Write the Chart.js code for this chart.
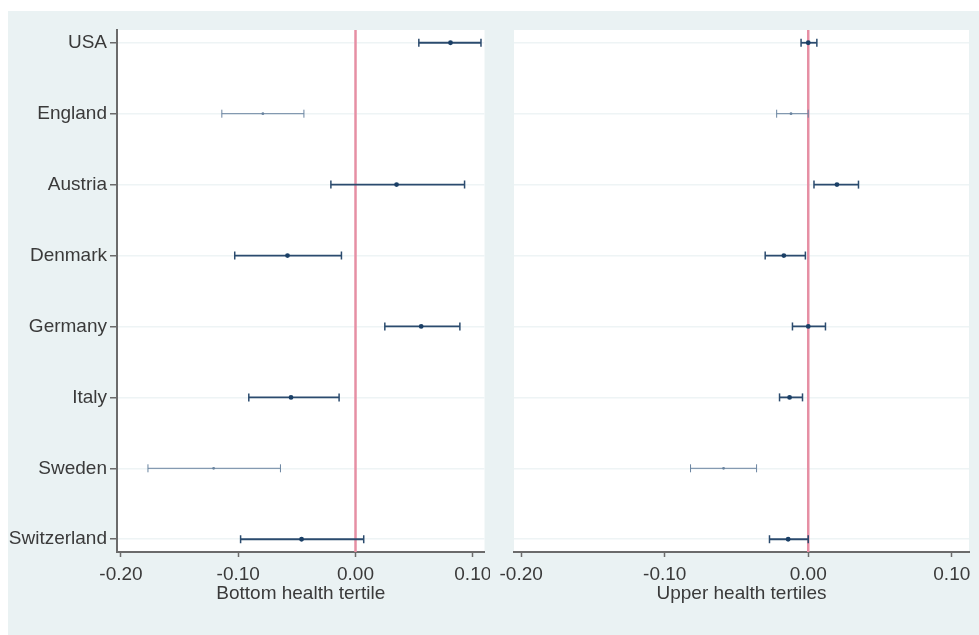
<!DOCTYPE html>
<html>
<head>
<meta charset="utf-8">
<script src="https://cdn.jsdelivr.net/npm/chart.js@4.4.1/dist/chart.umd.min.js"></script>
<style>
  html, body { margin: 0; padding: 0; background: #fff; }
  #frame { position: absolute; left: 8px; top: 11px; width: 971px; height: 624px; background: #eaf2f3; }
  .panel { position: absolute; top: 0; height: 635px; }
  #left { left: 0; width: 490px; }
  #right { left: 490px; width: 489px; }
</style>
</head>
<body>
<div id="frame"></div>
<div class="panel" id="left"><canvas id="bottomChart"></canvas></div>
<div class="panel" id="right"><canvas id="upperChart"></canvas></div>
<script>
// countries top to bottom
const countries = ['USA', 'England', 'Austria', 'Denmark', 'Germany', 'Italy', 'Sweden', 'Switzerland'];
const xTicks = [-0.2, -0.1, 0, 0.1];

// bottom health tertile: estimate + 95% CI
const bottomEst = [0.081, -0.079, 0.035, -0.058, 0.056, -0.055, -0.121, -0.046];
const bottomLow = [0.054, -0.114, -0.021, -0.103, 0.025, -0.091, -0.177, -0.098];
const bottomHigh = [0.107, -0.044, 0.093, -0.012, 0.089, -0.014, -0.064, 0.007];

// upper health tertiles
const upperEst = [0.000, -0.012, 0.020, -0.017, 0.000, -0.013, -0.059, -0.014];
const upperLow = [-0.005, -0.022, 0.004, -0.030, -0.011, -0.020, -0.082, -0.027];
const upperHigh = [0.006, 0.000, 0.035, -0.002, 0.012, -0.004, -0.036, 0.000];

// rows drawn with the light/thin style
const thinRows = ['England', 'Sweden'];

const COLORS = {
  grid: '#eef4f5',
  axis: '#6b6b6b',
  text: '#3a3a3a',
  navy: '#2b4b6e',
  navyDot: '#1a3f66',
  navyLight: '#6a84a0',
  zero: '#e68fa4',
};
const FONT = "'Liberation Sans', Arial, sans-serif";
const Y_MIN = -0.18;
const Y_MAX = countries.length - 1 + 0.18;

const plotBackground = {
  id: 'plotBackground',
  beforeDraw(chart) {
    const { ctx, chartArea: a } = chart;
    ctx.save();
    ctx.fillStyle = '#fff';
    ctx.fillRect(a.left, a.top, a.right - a.left, a.bottom - a.top);
    ctx.restore();
  },
};

function ciDatasets(est, low, high) {
  const sets = [{
    data: [{ x: 0, y: Y_MIN }, { x: 0, y: Y_MAX }],
    showLine: true,
    borderColor: COLORS.zero,
    borderWidth: 2.5,
    pointRadius: 0,
    order: 10,
  }];
  countries.forEach((c, i) => {
    const thin = thinRows.includes(c);
    const color = thin ? COLORS.navyLight : COLORS.navy;
    sets.push({
      data: [{ x: low[i], y: i }, { x: high[i], y: i }],
      showLine: true,
      borderColor: color,
      borderWidth: thin ? 1 : 1.8,
      pointStyle: 'line',
      rotation: 90,
      pointRadius: 4,
      pointBorderWidth: thin ? 1 : 1.5,
      pointBorderColor: color,
      order: 5,
    });
  });
  sets.push({
    data: est.map((v, i) => ({ x: v, y: i })),
    pointStyle: 'circle',
    pointRadius: countries.map((c) => (thinRows.includes(c) ? 1.4 : 2.4)),
    backgroundColor: countries.map((c) => (thinRows.includes(c) ? COLORS.navyLight : COLORS.navyDot)),
    borderWidth: 0,
    order: 1,
  });
  return sets;
}

function makePanel(canvasId, est, low, high, cfg) {
  return new Chart(document.getElementById(canvasId), {
    type: 'scatter',
    data: { datasets: ciDatasets(est, low, high) },
    plugins: [plotBackground],
    options: {
      responsive: true,
      maintainAspectRatio: false,
      animation: false,
      events: [],
      layout: { padding: { top: 30, right: cfg.padRight, left: 0, bottom: 0 } },
      plugins: { legend: { display: false }, tooltip: { enabled: false } },
      scales: {
        x: {
          type: 'linear',
          min: cfg.xMin,
          max: cfg.xMax,
          afterBuildTicks: (s) => { s.ticks = xTicks.map((v) => ({ value: v })); },
          afterFit: (s) => {
            s.height = 83;
            s.paddingLeft = 0;
            s.paddingRight = 0;
          },
          ticks: {
            color: COLORS.text,
            font: { family: FONT, size: 19 },
            padding: 6,
            maxRotation: 0,
            callback: (v) => v.toFixed(2),
          },
          grid: {
            drawOnChartArea: false,
            tickLength: 5,
            tickColor: COLORS.axis,
            tickWidth: 1.5,
          },
          border: { color: COLORS.axis, width: 2 },
          title: {
            display: true,
            text: cfg.title,
            color: COLORS.text,
            font: { family: FONT, size: 19 },
            padding: { top: 0, bottom: 30 },
          },
        },
        y: {
          type: 'linear',
          reverse: true,
          min: Y_MIN,
          max: Y_MAX,
          afterBuildTicks: (s) => { s.ticks = countries.map((c, i) => ({ value: i })); },
          afterFit: (s) => { s.width = cfg.yWidth; },
          ticks: {
            display: cfg.showLabels,
            color: COLORS.text,
            font: { family: FONT, size: 19 },
            padding: 3,
            callback: (v) => countries[v],
          },
          grid: {
            color: COLORS.grid,
            lineWidth: 1.5,
            drawTicks: cfg.showLabels,
            tickLength: 7,
            tickColor: COLORS.axis,
            tickWidth: 1.5,
          },
          border: { display: cfg.showLabels, color: COLORS.axis, width: 2 },
        },
      },
    },
  });
}

const bottomChart = makePanel('bottomChart', bottomEst, bottomLow, bottomHigh, {
  title: 'Bottom health tertile',
  xMin: -0.2034,
  xMax: 0.110,
  yWidth: 117,
  padRight: 5,
  showLabels: true,
});

const upperChart = makePanel('upperChart', upperEst, upperLow, upperHigh, {
  title: 'Upper health tertiles',
  xMin: -0.205,
  xMax: 0.112,
  yWidth: 24,
  padRight: 10,
  showLabels: false,
});
</script>
</body>
</html>
